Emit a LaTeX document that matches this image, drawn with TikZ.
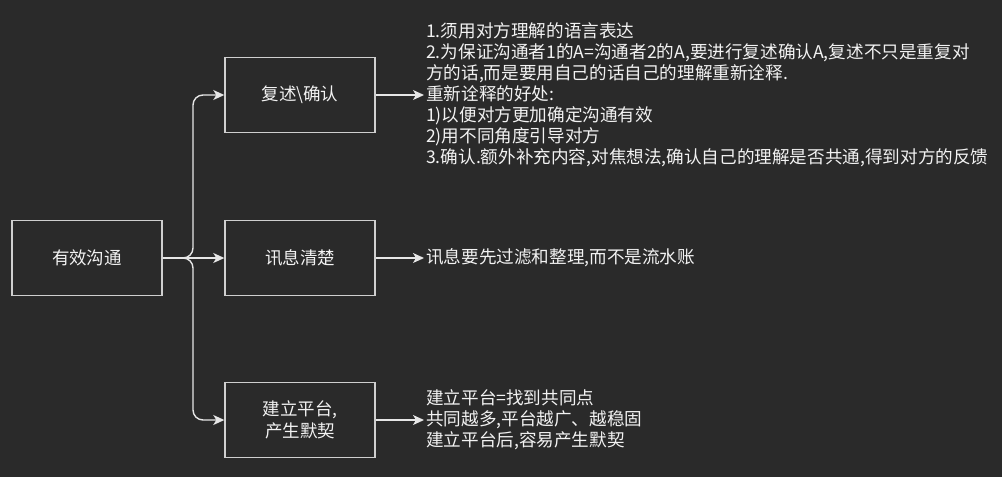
\documentclass[tikz,border=0pt]{standalone}
\usepackage{fontspec}
\newfontfamily\cjk{Noto Sans CJK SC}
\usetikzlibrary{arrows.meta}
\definecolor{bg}{HTML}{2A2A2A}
\definecolor{edge}{HTML}{E6E6E6}
\definecolor{boxline}{HTML}{CFCFCF}
\definecolor{txt}{HTML}{F2F2F2}
\tikzset{
  box/.style={draw=boxline, line width=1.4pt, minimum width=150pt, minimum height=75pt,
    inner sep=0pt, align=center, text=txt, font=\cjk\fontsize{17.5}{22}\selectfont},
  note/.style={inner sep=0pt, anchor=west, align=left, text=txt,
    font=\cjk\fontsize{17.6}{21}\selectfont},
  arr/.style={draw=edge, line width=1.4pt, -{Stealth[length=11pt,width=10pt,inset=3pt]}},
}
\begin{document}
\begin{tikzpicture}[x=1pt,y=-1pt]
\fill[bg] (0,0) rectangle (1002,477);
\useasboundingbox (0,0) rectangle (1002,477);
\node[box] (root) at (87,258) {有效沟通};
\node[box] (b1) at (300,95) {复述\textbackslash 确认};
\node[box] (b2) at (300,258) {讯息清楚};
\node[box] (b3) at (300,420) {建立平台,\\产生默契};
\node[note] (t1) at (426,95) {1.须用对方理解的语言表达\\
2.为保证沟通者1的A=沟通者2的A,要进行复述确认A,复述不只是重复对\\
方的话,而是要用自己的话自己的理解重新诠释.\\
重新诠释的好处:\\
1)以便对方更加确定沟通有效\\
2)用不同角度引导对方\\
3.确认.额外补充内容,对焦想法,确认自己的理解是否共通,得到对方的反馈};
\node[note] (t2) at (426,258) {讯息要先过滤和整理,而不是流水账};
\node[note] (t3) at (426,420) {建立平台=找到共同点\\
共同越多,平台越广、越稳固\\
建立平台后,容易产生默契};
\coordinate (bx) at (193,258);
\draw[arr, rounded corners=10pt] (root.east) -- (bx) |- (b1.west);
\draw[arr, rounded corners=10pt] (root.east) -- (bx) |- (b3.west);
\draw[arr] (root.east) -- (b2.west);
\draw[arr, shorten >=2pt] (b1.east) -- (t1.west);
\draw[arr, shorten >=2pt] (b2.east) -- (t2.west);
\draw[arr, shorten >=2pt] (b3.east) -- (t3.west);
\end{tikzpicture}
\end{document}
